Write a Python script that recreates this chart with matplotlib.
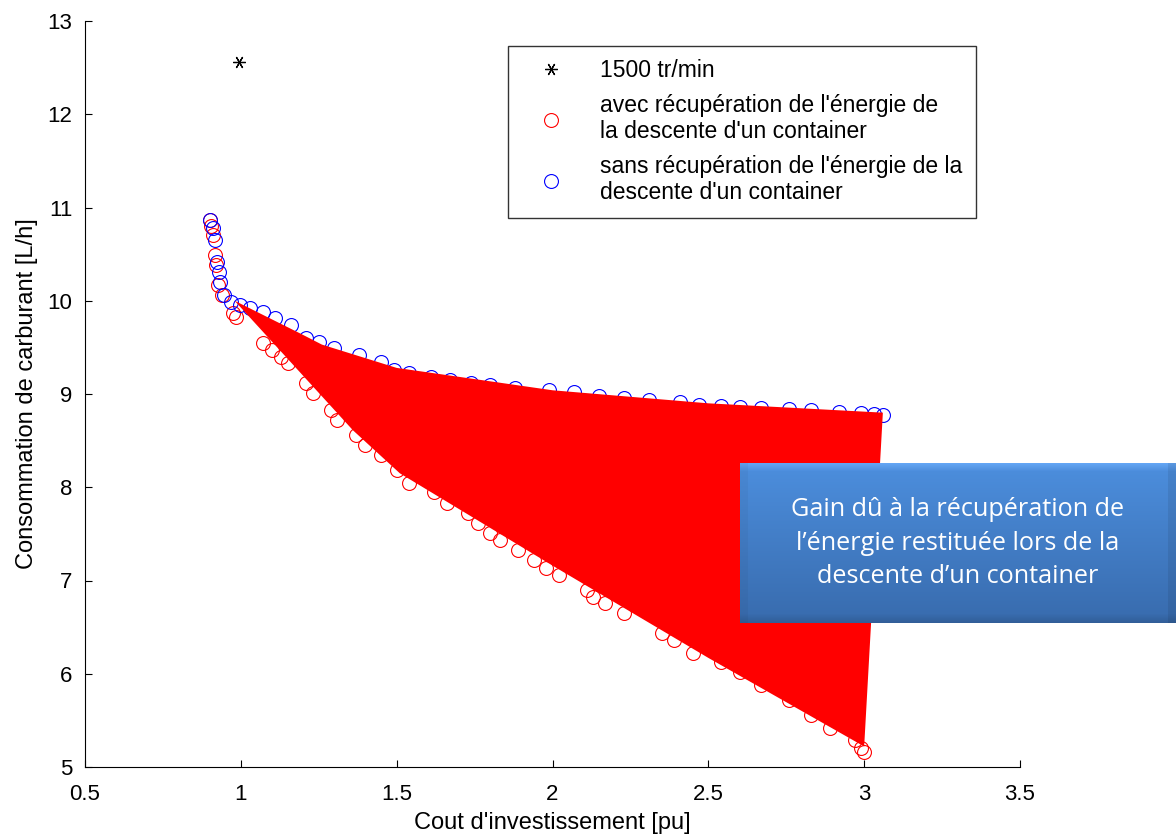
import numpy as np
import matplotlib
matplotlib.use("Agg")
import matplotlib.pyplot as plt

plt.rcParams['font.family'] = ['Liberation Sans', 'DejaVu Sans']

# reference point
ref_x = [0.995]
ref_y = [12.56]

# with energy recovery (red)
avec_x = [0.90, 0.904, 0.91, 0.917, 0.92, 0.927, 0.94, 0.975, 0.985, 1.07, 1.10, 1.13,
          1.15, 1.21, 1.23, 1.29, 1.31, 1.37, 1.40, 1.45, 1.50, 1.54, 1.62, 1.66, 1.73,
          1.76, 1.80, 1.83, 1.89, 1.94, 1.98, 2.02, 2.11, 2.13, 2.17, 2.23, 2.35, 2.39,
          2.45, 2.54, 2.60, 2.67, 2.76, 2.83, 2.89, 2.97, 2.99, 3.00]
avec_y = [10.87, 10.80, 10.70, 10.49, 10.38, 10.17, 10.06, 9.87, 9.83, 9.55, 9.47, 9.40,
          9.33, 9.12, 9.01, 8.83, 8.72, 8.56, 8.45, 8.35, 8.19, 8.05, 7.95, 7.83, 7.72,
          7.62, 7.51, 7.43, 7.33, 7.22, 7.13, 7.06, 6.90, 6.82, 6.76, 6.65, 6.44, 6.36,
          6.22, 6.13, 6.02, 5.88, 5.72, 5.56, 5.42, 5.29, 5.20, 5.16]

# without energy recovery (blue)
sans_x = [0.901, 0.911, 0.917, 0.924, 0.930, 0.933, 0.946, 0.970, 0.997, 1.03, 1.07, 1.11,
          1.16, 1.21, 1.25, 1.30, 1.38, 1.45, 1.49, 1.54, 1.61, 1.67, 1.74, 1.80, 1.88,
          1.99, 2.07, 2.15, 2.23, 2.31, 2.41, 2.47, 2.54, 2.60, 2.67, 2.76, 2.83, 2.92,
          2.99, 3.03, 3.06]
sans_y = [10.87, 10.78, 10.65, 10.42, 10.31, 10.20, 10.06, 9.99, 9.95, 9.92, 9.88, 9.82,
          9.74, 9.60, 9.56, 9.49, 9.42, 9.34, 9.26, 9.23, 9.18, 9.15, 9.12, 9.10, 9.06,
          9.04, 9.02, 8.98, 8.96, 8.94, 8.91, 8.88, 8.87, 8.86, 8.85, 8.84, 8.83, 8.81,
          8.80, 8.79, 8.78]

# outline of the shaded gain area
gain_x = [0.98, 1.19, 1.26, 1.50, 2.00, 2.50, 3.06, 3.00, 2.50, 2.00, 1.51, 1.36]
gain_y = [10.00, 9.65, 9.53, 9.28, 9.04, 8.90, 8.80, 5.22, 6.17, 7.16, 8.15, 8.61]

fig = plt.figure(figsize=(11.76, 8.34), dpi=100)
ax = fig.add_axes([85 / 1176, 67 / 834, 935 / 1176, 746 / 834])

ax.plot(ref_x, ref_y, linestyle='none', marker=(6, 2, 90), color='k', ms=9, mew=0.9,
        label='1500 tr/min')
ax.plot(avec_x, avec_y, 'o', mfc='none', mec='red', ms=10, mew=0.8,
        label="avec récupération de l'énergie de\nla descente d'un container")
ax.plot(sans_x, sans_y, 'o', mfc='none', mec='blue', ms=10, mew=0.8,
        label="sans récupération de l'énergie de la\ndescente d'un container")
ax.fill(gain_x, gain_y, color='red', lw=0, zorder=3)

ax.set_xlim(0.5, 3.5)
ax.set_ylim(5, 13)
ax.set_xticks([0.5, 1, 1.5, 2, 2.5, 3, 3.5])
ax.set_xticklabels(['0.5', '1', '1.5', '2', '2.5', '3', '3.5'])
ax.set_yticks(range(5, 14))
ax.tick_params(direction='in', length=5, labelsize=16)
ax.tick_params(axis='x', pad=12)
ax.tick_params(axis='y', pad=9)
ax.spines['top'].set_visible(False)
ax.spines['right'].set_visible(False)
ax.set_xlabel("Cout d'investissement [pu]", fontsize=17, labelpad=5)
ax.set_ylabel("Consommation de carburant [L/h]", fontsize=17, labelpad=7)

leg = ax.legend(loc='upper left', bbox_to_anchor=(0.452, 0.967), borderaxespad=0,
                fontsize=16.5, frameon=True, fancybox=False, edgecolor='k',
                handletextpad=0.83, borderpad=0.6, labelspacing=0.5, handlelength=2.6)
leg.get_frame().set_linewidth(1.0)

# gradient text box
bx = fig.add_axes([740 / 1176, (834 - 623) / 834, 436 / 1176, 160 / 834])
h, w = 160, 436
top = np.array([0.30, 0.56, 0.87])
bot = np.array([0.22, 0.42, 0.68])
t = np.linspace(0, 1, h)[:, None, None]
img = top * (1 - t) + bot * t
img = np.repeat(img, w, axis=1)
ramp = np.linspace(1, 0, 10)[:, None, None]
img[:10] = np.clip(img[:10] + 0.10 * ramp, 0, 1)
img[-10:] = img[-10:] * (1 - 0.12 * ramp[::-1])
img[:, :8] = img[:, :8] * 0.96
img[:, -8:] = img[:, -8:] * 0.92
bx.imshow(img, aspect='auto', extent=[0, 1, 0, 1])
bx.set_xlim(0, 1)
bx.set_ylim(0, 1)
bx.axis('off')
bx.text(0.5, 0.5, "Gain dû à la récupération de\nl’énergie restituée lors de la\ndescente d’un container",
        ha='center', va='center', color='white', fontsize=18.2, family='Open Sans',
        linespacing=1.45)

plt.savefig('out.png', dpi=100)
